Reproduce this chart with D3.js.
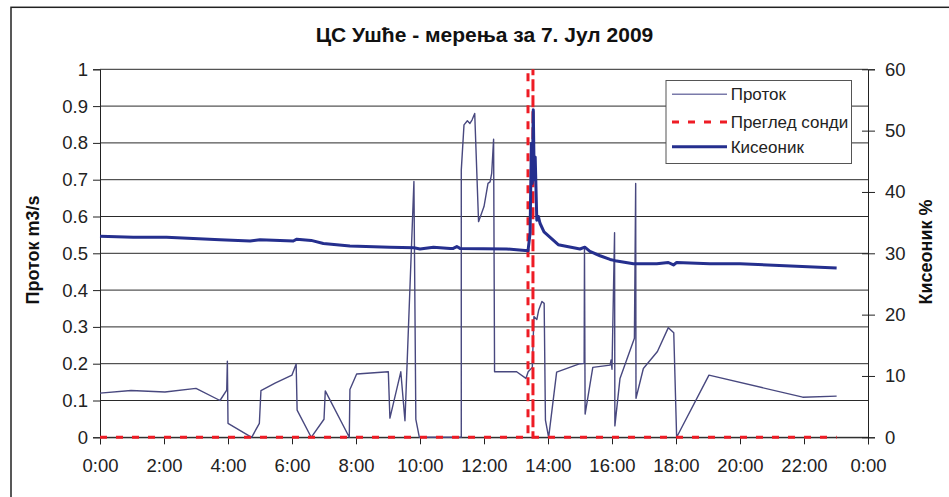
<!DOCTYPE html>
<html>
<head>
<meta charset="utf-8">
<script src="https://cdn.jsdelivr.net/npm/d3@7"></script>
<style>
  body { margin: 0; background: #fff; }
  svg { display: block; font-family: "Liberation Sans", Arial, sans-serif; }
</style>
</head>
<body>
<div id="chart"></div>
<script>
// Проток (m3/s) – time in hours
const flowTime = [0, 0.97, 2.03, 3.0, 3.75, 3.96, 3.98, 4.0, 4.74, 4.98, 5.03, 5.47, 6.0, 6.13, 6.16, 6.6, 7.0, 7.04, 7.79, 7.81, 8.02, 9.01, 9.06, 9.4, 9.53, 9.81, 9.87, 9.98, 11.29, 11.29, 11.375, 11.48, 11.56, 11.625, 11.71, 11.83, 12.0, 12.125, 12.19, 12.24, 12.3, 12.33, 13.02, 13.31, 13.38, 13.51, 13.56, 13.65, 13.71, 13.81, 13.88, 13.92, 14.02, 14.27, 15.0, 15.13, 15.14, 15.16, 15.4, 15.94, 15.97, 16.0, 16.08, 16.09, 16.25, 16.7, 16.74, 16.75, 16.98, 17.42, 17.76, 17.93, 18.02, 19.03, 21.96, 23.02];
const flowValue = [0.12, 0.127, 0.123, 0.133, 0.10, 0.128, 0.207, 0.038, 0.0, 0.038, 0.127, 0.147, 0.169, 0.199, 0.074, 0.0, 0.049, 0.126, 0.0, 0.13, 0.172, 0.178, 0.052, 0.178, 0.045, 0.695, 0.049, 0.0, 0.0, 0.726, 0.849, 0.86, 0.853, 0.862, 0.88, 0.586, 0.627, 0.69, 0.694, 0.717, 0.81, 0.178, 0.178, 0.16, 0.178, 0.19, 0.328, 0.32, 0.346, 0.369, 0.364, 0.047, 0.0, 0.177, 0.2, 0.201, 0.518, 0.063, 0.19, 0.196, 0.21, 0.185, 0.556, 0.031, 0.16, 0.269, 0.69, 0.106, 0.187, 0.233, 0.298, 0.284, 0.0, 0.169, 0.109, 0.112];

// Преглед сонди
const probeTime = [0, 13.375, 13.375, 13.375, 13.53, 13.53, 13.53, 23.02];
const probeValue = [0, 0, 1, 0, 0, 1, 0, 0];

// Кисеоник (%)
const o2Time = [0, 1.04, 2.08, 3.75, 4.69, 5.0, 6.04, 6.15, 6.6, 6.98, 7.81, 9.06, 9.81, 10.0, 10.42, 10.94, 11.04, 11.15, 11.25, 12.71, 13.375, 13.44, 13.48, 13.51, 13.54, 13.57, 13.6, 13.65, 13.7, 13.75, 13.875, 14.32, 15.0, 15.15, 15.31, 15.625, 15.94, 16.1, 16.67, 17.4, 17.76, 17.92, 18.02, 19.06, 20.0, 23.02];
const o2Value = [32.8, 32.6, 32.6, 32.2, 32.0, 32.2, 32.0, 32.3, 32.1, 31.6, 31.2, 31.0, 30.9, 30.7, 31.0, 30.8, 30.8, 31.1, 30.8, 30.7, 30.4, 33.3, 47.9, 41.4, 53.4, 42, 45.7, 35.4, 36, 34.9, 33.5, 31.4, 30.7, 31.0, 30.3, 29.6, 29.0, 28.8, 28.3, 28.3, 28.5, 28.1, 28.5, 28.3, 28.3, 27.6];

const xTicks = [0, 2, 4, 6, 8, 10, 12, 14, 16, 18, 20, 22, 24];
const xTickLabels = ["0:00", "2:00", "4:00", "6:00", "8:00", "10:00", "12:00", "14:00", "16:00", "18:00", "20:00", "22:00", "0:00"];
const leftTicks = [0, 0.1, 0.2, 0.3, 0.4, 0.5, 0.6, 0.7, 0.8, 0.9, 1];
const rightTicks = [0, 10, 20, 30, 40, 50, 60];

const W = 949, H = 497;
const margin = { top: 69.3, right: 81, bottom: 59.7, left: 100 };
const width = W - margin.left - margin.right;
const height = H - margin.top - margin.bottom;

const x = d3.scaleLinear().domain([0, 24]).range([0, width]);
const y = d3.scaleLinear().domain([0, 1]).range([height, 0]);
const y2 = d3.scaleLinear().domain([0, 60]).range([height, 0]);

const svg = d3.select("#chart").append("svg").attr("width", W).attr("height", H);

// outer frame
svg.append("rect")
  .attr("x", 11).attr("y", 7.3)
  .attr("width", W + 20).attr("height", H + 20)
  .attr("fill", "none").attr("stroke", "#222").attr("stroke-width", 1.5);

svg.append("text")
  .attr("x", 484.5).attr("y", 42)
  .attr("text-anchor", "middle")
  .attr("font-size", 21).attr("font-weight", "bold").attr("fill", "#111")
  .text("ЦС Ушће - мерења за 7. Јул 2009");

const g = svg.append("g").attr("transform", `translate(${margin.left},${margin.top})`);

// gridlines
g.append("g").selectAll("line").data(leftTicks).join("line")
  .attr("x1", 0).attr("x2", width)
  .attr("y1", (d) => y(d)).attr("y2", (d) => y(d))
  .attr("stroke", "#2a2a2a").attr("stroke-width", 1);

const fmt = d3.format(".1~f");
const axisFont = 18.5;

const left = g.append("g")
  .call(d3.axisLeft(y).tickValues(leftTicks).tickFormat(fmt).tickSize(7).tickPadding(5));
const right = g.append("g").attr("transform", `translate(${width},0)`)
  .call(d3.axisRight(y2).tickValues(rightTicks).tickSize(7).tickPadding(10));
right.selectAll(".tick line").attr("x1", -6);
const bottom = g.append("g").attr("transform", `translate(0,${height})`)
  .call(d3.axisBottom(x).tickValues(xTicks).tickFormat((d, i) => xTickLabels[i]).tickSize(7).tickPadding(15));

[left, right, bottom].forEach((a) => {
  a.select(".domain").attr("stroke", "#222");
  a.selectAll(".tick line").attr("stroke", "#222");
  a.selectAll("text").attr("font-size", axisFont).attr("fill", "#222")
    .attr("font-family", "'Liberation Sans', Arial, sans-serif");
});

// axis titles
svg.append("text")
  .attr("transform", `translate(39,250) rotate(-90)`)
  .attr("text-anchor", "middle")
  .attr("font-size", 18).attr("font-weight", "bold").attr("fill", "#111")
  .text("Проток m3/s");
svg.append("text")
  .attr("transform", `translate(932,252) rotate(-90)`)
  .attr("text-anchor", "middle")
  .attr("font-size", 18).attr("font-weight", "bold").attr("fill", "#111")
  .text("Кисеоник %");

const flowData = flowTime.map((t, i) => ({ t, v: flowValue[i] }));
const probeData = probeTime.map((t, i) => ({ t, v: probeValue[i] }));
const o2Data = o2Time.map((t, i) => ({ t, v: o2Value[i] }));

const line = d3.line().x((d) => x(d.t)).y((d) => y(d.v));
const line2 = d3.line().x((d) => x(d.t)).y((d) => y2(d.v));

g.append("path").datum(flowData).attr("d", line)
  .attr("fill", "none").attr("stroke", "#48487f").attr("stroke-width", 1.4)
  .attr("stroke-linejoin", "round");

g.append("path").datum(probeData).attr("d", line)
  .attr("fill", "none").attr("stroke", "#ee1c25").attr("stroke-width", 3)
  .attr("stroke-dasharray", "7,9");

g.append("path").datum(o2Data).attr("d", line2)
  .attr("fill", "none").attr("stroke", "#252f8e").attr("stroke-width", 3)
  .attr("stroke-linejoin", "round");

// legend
const legend = svg.append("g").attr("transform", "translate(666,80.5)");
legend.append("rect")
  .attr("width", 185.5).attr("height", 83)
  .attr("fill", "#fff").attr("stroke", "#555").attr("stroke-width", 1);

const items = [
  { name: "Проток", color: "#7a7aaa", w: 1.5, dash: null },
  { name: "Преглед сонди", color: "#ee1c25", w: 3, dash: "7,9" },
  { name: "Кисеоник", color: "#252f8e", w: 3, dash: null }
];
const rowY = [13.8, 41.5, 66.2];
items.forEach((it, i) => {
  legend.append("line")
    .attr("x1", 6).attr("x2", 61)
    .attr("y1", rowY[i]).attr("y2", rowY[i])
    .attr("stroke", it.color).attr("stroke-width", it.w)
    .attr("stroke-dasharray", it.dash);
  legend.append("text")
    .attr("x", 64.7).attr("y", rowY[i]).attr("dy", "0.35em")
    .attr("font-size", 17).attr("fill", "#222")
    .text(it.name);
});
</script>
</body>
</html>
